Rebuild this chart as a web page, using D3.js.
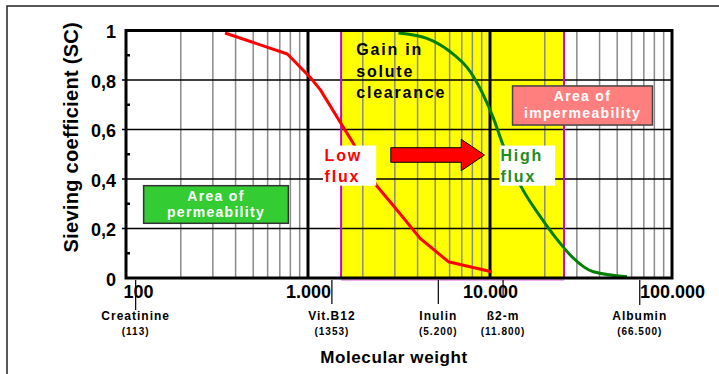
<!DOCTYPE html>
<html>
<head>
<meta charset="utf-8">
<script src="https://cdn.jsdelivr.net/npm/d3@7"></script>
<style>
  body { margin: 0; background: #fff; }
  svg { display: block; }
  text { font-family: "Liberation Sans", Arial, Helvetica, sans-serif; font-weight: bold; }
</style>
</head>
<body>
<svg id="chart" width="719" height="374"></svg>
<script>
// Axis ticks (log molecular weight, linear sieving coefficient)
const xTicks = [100, 1000, 10000, 100000];
const xTickLabels = ["100", "1.000", "10.000", "100.000"];
const yTicks = [0, 0.2, 0.4, 0.6, 0.8, 1];
const yTickLabels = ["0", "0,2", "0,4", "0,6", "0,8", "1"];
const yMinorTicks = [0.1, 0.3, 0.5, 0.7, 0.9];

// Marker molecules along the weight axis
const moleculeNames = ["Creatinine", "Vit.B12", "Inulin", "ß2-m", "Albumin"];
const moleculeWeights = [113, 1353, 5200, 11800, 66500];
const moleculeWeightLabels = ["(113)", "(1353)", "(5.200)", "(11.800)", "(66.500)"];

// Sieving curves
const lowFluxMW = [350, 770, 1030, 1170, 1500, 1770, 2370, 3080, 4130, 5900, 10200];
const lowFluxSC = [0.99, 0.905, 0.81, 0.76, 0.63, 0.545, 0.375, 0.275, 0.16, 0.066, 0.025];
const highFluxMW = [3140, 4500, 6040, 7780, 9200, 10450, 11600, 14650, 18900, 24300, 28200, 37000, 56600];
const highFluxSC = [0.99, 0.968, 0.914, 0.834, 0.739, 0.645, 0.551, 0.376, 0.248, 0.14, 0.086, 0.025, 0.005];

// Weight range of the clearance gain band
const gainRange = [1520, 25500];

const svg = d3.select("#chart");
const W = 719, H = 374;
const plot = { left: 126, right: 672, top: 30.5, bottom: 278 };

const x = d3.scaleLog().domain([100, 100000]).range([plot.left, plot.right]);
const y = d3.scaleLinear().domain([0, 1]).range([plot.bottom, plot.top]);

svg.append("rect").attr("width", W).attr("height", H).attr("fill", "#fff");

// outer frame
svg.append("rect")
  .attr("x", 7).attr("y", 6).attr("width", 800).attr("height", 500)
  .attr("fill", "none").attr("stroke", "#222").attr("stroke-width", 1.5);

// clearance gain band
svg.append("rect")
  .attr("x", x(gainRange[0])).attr("y", y(1))
  .attr("width", x(gainRange[1]) - x(gainRange[0]))
  .attr("height", y(0) - y(1))
  .attr("fill", "#ffff00");

// vertical grid: minor lines inside each decade, heavy lines on decades
const minorX = [];
[100, 1000, 10000].forEach(d => { for (let k = 2; k <= 9; k++) minorX.push(d * k); });
svg.append("g").selectAll("line").data(minorX).join("line")
  .attr("x1", d => x(d)).attr("x2", d => x(d))
  .attr("y1", y(1)).attr("y2", y(0))
  .attr("stroke", "#8a8a8a").attr("stroke-width", 1.5);
svg.append("g").selectAll("line").data([1000, 10000]).join("line")
  .attr("x1", d => x(d)).attr("x2", d => x(d))
  .attr("y1", y(1)).attr("y2", y(0))
  .attr("stroke", "#000").attr("stroke-width", 3);

// horizontal grid
svg.append("g").selectAll("line").data(yTicks.filter(d => d > 0 && d < 1)).join("line")
  .attr("x1", plot.left - 4).attr("x2", plot.right)
  .attr("y1", d => y(d)).attr("y2", d => y(d))
  .attr("stroke", "#000").attr("stroke-width", 1.3);

// band edges
svg.append("g").selectAll("line").data(gainRange).join("line")
  .attr("x1", d => x(d)).attr("x2", d => x(d))
  .attr("y1", y(1)).attr("y2", y(0) + 1)
  .attr("stroke", "#cc00cc").attr("stroke-width", 2);
svg.append("line")
  .attr("x1", x(gainRange[0])).attr("x2", x(gainRange[1]))
  .attr("y1", y(0) + 2).attr("y2", y(0) + 2)
  .attr("stroke", "#e890e8").attr("stroke-width", 1.5);

// sieving curves
const lowLine = d3.line().x((d, i) => x(lowFluxMW[i])).y(d => y(d)).curve(d3.curveLinear);
const highLine = d3.line().x((d, i) => x(highFluxMW[i])).y(d => y(d)).curve(d3.curveMonotoneX);
svg.append("path").attr("d", lowLine(lowFluxSC))
  .attr("fill", "none").attr("stroke", "#ff0000").attr("stroke-width", 3).attr("stroke-linejoin", "round");
svg.append("path").attr("d", highLine(highFluxSC))
  .attr("fill", "none").attr("stroke", "#007f00").attr("stroke-width", 3).attr("stroke-linejoin", "round");

// annotation boxes, placed in weight / coefficient units
function box(mw0, mw1, sc0, sc1, fill, stroke) {
  const bx = x(mw0), by = y(sc1);
  svg.append("rect")
    .attr("x", bx).attr("y", by)
    .attr("width", x(mw1) - bx).attr("height", y(sc0) - by)
    .attr("fill", fill).attr("stroke", stroke).attr("stroke-width", stroke === "none" ? 0 : 1.5);
  return { x0: bx, x1: x(mw1), y0: by };
}
function lines(tx, ty, arr, opts) {
  const t = svg.append("text")
    .attr("x", tx).attr("y", ty)
    .attr("fill", opts.color).attr("font-size", opts.size)
    .attr("letter-spacing", opts.spacing)
    .attr("text-anchor", opts.anchor || "start");
  arr.forEach((s, i) => t.append("tspan").attr("x", tx).attr("dy", i === 0 ? 0 : opts.step).text(s));
}

// Area of permeability
let b = box(125, 780, 0.221, 0.373, "#33cc33", "#333");
lines((b.x0 + b.x1) / 2, b.y0 + 15, ["Area of", "permeability"],
  { color: "#fff", size: 14, spacing: 1.3, step: 16.5, anchor: "middle" });

// Area of impermeability
b = box(13300, 78100, 0.618, 0.776, "#ff7f7f", "#444");
lines((b.x0 + b.x1) / 2, b.y0 + 15.5, ["Area of", "impermeability"],
  { color: "#fff", size: 14, spacing: 1.3, step: 16.6, anchor: "middle" });

// Low flux
b = box(1210, 2370, 0.373, 0.535, "#fff", "none");
lines(b.x0 + 1.5, b.y0 + 15, ["Low", "flux"], { color: "#ff0000", size: 16, spacing: 1.8, step: 21.6 });

// High flux
b = box(11270, 22800, 0.373, 0.535, "#fff", "none");
lines(b.x0 + 1, b.y0 + 15, ["High", "flux"], { color: "#1e8c1e", size: 16, spacing: 1.8, step: 21.6 });

// Gain in solute clearance
lines(x(1840), y(0.90), ["Gain in", "solute", "clearance"], { color: "#000", size: 16, spacing: 1.8, step: 21.6 });

// arrow from low flux to high flux
(function () {
  const xa = x(2850), xh = x(6950), xt = x(9330), yc = y(0.497);
  const pts = [[xa, yc - 7.3], [xh, yc - 7.3], [xh, yc - 15.7], [xt, yc], [xh, yc + 15.7], [xh, yc + 7.3], [xa, yc + 7.3]];
  svg.append("path").attr("d", d3.line()(pts) + "Z")
    .attr("fill", "#ff0000").attr("stroke", "#000").attr("stroke-width", 1);
})();

// plot frame
svg.append("rect")
  .attr("x", plot.left).attr("y", plot.top)
  .attr("width", plot.right - plot.left).attr("height", plot.bottom - plot.top)
  .attr("fill", "none").attr("stroke", "#000").attr("stroke-width", 3);

// minor ticks on the coefficient axis
svg.append("g").selectAll("line").data(yMinorTicks).join("line")
  .attr("x1", plot.left).attr("x2", plot.left + 4)
  .attr("y1", d => y(d)).attr("y2", d => y(d))
  .attr("stroke", "#000").attr("stroke-width", 2.5);

// y axis labels
const yAxis = svg.append("g").attr("transform", `translate(${plot.left - 10},0)`)
  .call(d3.axisLeft(y).tickValues(yTicks).tickFormat((d, i) => yTickLabels[i]).tickSize(0).tickPadding(0));
yAxis.select(".domain").remove();
yAxis.attr("font-family", null);
yAxis.selectAll("text").attr("font-size", 18).attr("fill", "#000").attr("dy", "0.4em");

// x axis labels
const xAxis = svg.append("g").attr("transform", `translate(0,${plot.bottom})`)
  .call(d3.axisBottom(x).tickValues(xTicks).tickFormat((d, i) => xTickLabels[i]).tickSize(0).tickPadding(7));
xAxis.select(".domain").remove();
xAxis.attr("font-family", null);
xAxis.selectAll("text").attr("font-size", 18).attr("fill", "#000");
xAxis.selectAll("text").filter((d, i) => i === 0).attr("text-anchor", "start").attr("x", -3);

// molecule markers
const tickLen = [30, 24, 24, 17, 25];
const mol = svg.append("g");
moleculeWeights.forEach((w, i) => {
  const mx = x(w);
  mol.append("line").attr("x1", mx).attr("x2", mx)
    .attr("y1", plot.bottom + 2).attr("y2", plot.bottom + 2 + tickLen[i])
    .attr("stroke", "#000").attr("stroke-width", 1.2);
  mol.append("text").attr("x", mx).attr("y", 320).attr("text-anchor", "middle")
    .attr("font-size", 12).attr("letter-spacing", 1).text(moleculeNames[i]);
  mol.append("text").attr("x", mx).attr("y", 335).attr("text-anchor", "middle")
    .attr("font-size", 10).attr("letter-spacing", 1).text(moleculeWeightLabels[i]);
});

// axis titles
svg.append("text")
  .attr("transform", `translate(78,${(plot.top + plot.bottom) / 2 - 17}) rotate(-90)`)
  .attr("text-anchor", "middle").attr("font-size", 20).attr("letter-spacing", 0.3)
  .text("Sieving coefficient (SC)");
svg.append("text")
  .attr("x", 394).attr("y", 363).attr("text-anchor", "middle")
  .attr("font-size", 17).attr("letter-spacing", 0.6)
  .text("Molecular weight");
</script>
</body>
</html>
